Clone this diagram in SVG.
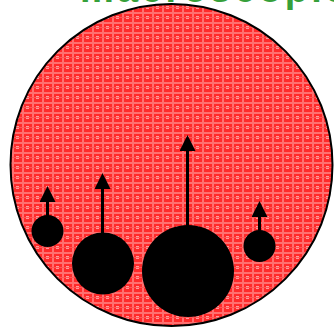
<svg xmlns="http://www.w3.org/2000/svg" width="334" height="329" viewBox="0 0 334 329">
<style>
.title{font-family:"Liberation Sans",Arial,sans-serif;font-weight:bold;font-size:38px;fill:#36a03a}
.ball{fill:#000}
.arr{stroke:#000;stroke-width:3;fill:none;marker-end:url(#ah)}
</style>
<defs>
<pattern id="grid" width="10" height="10" patternUnits="userSpaceOnUse">
<rect width="10" height="10" fill="#ff2a2a"/>
<rect x="0" y="2" width="10" height="2" fill="#ff7070"/>
<rect x="2" y="0" width="2" height="10" fill="#ff7070"/>
<rect x="6" y="6" width="3" height="3" fill="#ff9a9a"/>
<rect x="0" y="7" width="10" height="1" fill="#ff5555"/>
</pattern>
<marker id="ah" viewBox="0 0 16 16" refX="0" refY="8" markerWidth="16" markerHeight="16" markerUnits="userSpaceOnUse" orient="auto">
<path d="M0,0 L16,8 L0,16 Z" fill="#000"/>
</marker>
</defs>
<text class="title" x="80" y="2" textLength="266" lengthAdjust="spacing">macroscopic</text>
<g id="region">
<circle cx="171.5" cy="165" r="161" fill="url(#grid)" stroke="#000" stroke-width="2"/>
</g>
<g id="ball1"><circle class="ball" cx="47.5" cy="231" r="16"/></g>
<g id="ball2"><circle class="ball" cx="103" cy="263.5" r="31"/></g>
<g id="ball3"><circle class="ball" cx="188" cy="271" r="46"/></g>
<g id="ball4"><circle class="ball" cx="259.5" cy="246" r="16"/></g>
<g id="connectors">
<line class="arr" x1="47.5" y1="216" x2="47.5" y2="202"/>
<line class="arr" x1="102.5" y1="233" x2="102.5" y2="189"/>
<line class="arr" x1="187.5" y1="226" x2="187.5" y2="151"/>
<line class="arr" x1="259.5" y1="231" x2="259.5" y2="217"/>
</g>
</svg>
